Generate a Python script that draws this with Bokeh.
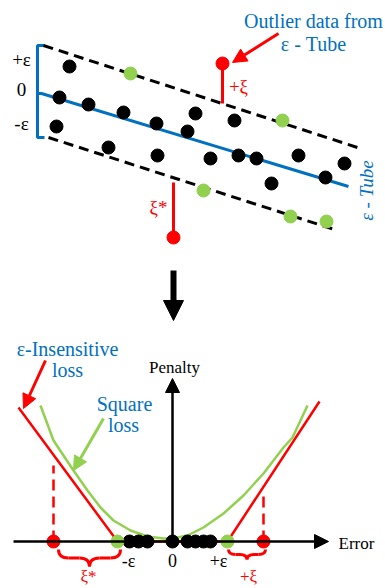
from bokeh.plotting import figure
from bokeh.layouts import column
from bokeh.models import Arrow, NormalHead, Range1d
from bokeh.core.properties import value
from bokeh.embed import file_html
from bokeh.resources import INLINE

# ---------------- DATA ----------------
# Top panel (diagram units, y grows downward)
black_x = [69, 59, 88, 123, 56, 156, 195, 187, 234, 108, 157, 210, 238, 256, 298, 344, 325, 271]
black_y = [66, 97, 104, 112, 126, 123, 113, 131, 120, 147, 155, 158, 155, 158, 155, 163, 177, 183]
green_x = [130, 282, 203, 290, 326]
green_y = [73, 120, 190, 216, 221]
outlier_x = [222, 173]
outlier_y = [63, 237]
outlier_stem_y = [103, 182]
center_x = [37, 41, 348]
center_y = [93, 93, 186]
upper_x = [43, 357]
upper_y = [45, 147]
lower_x = [48, 337]
lower_y = [137, 230]

# Bottom panel (error / penalty units)
eps = 5.5
inside_err = [-4.3, -3.4, -2.5, 0.0, 1.5, 2.3, 3.1, 3.8]
outlier_err = [-11.9, 9.1]
outlier_dash_top = [7.6, 4.9]
insens_err = [-15.4, -5.5, 5.5, 14.7]
insens_pen = [13.4, 0.0, 0.0, 14.0]
square_err = [-13.2, -11.9, -9.9, -8.5, -7.2, -5.9, -4.2, -2.5, -0.9, 0.0, 1.5, 3.1, 5.1, 7.1, 9.1, 11.1, 12.0, 13.5]
square_pen = [13.6, 10.1, 7.1, 5.1, 3.4, 2.1, 1.1, 0.5, 0.3, 0.3, 0.6, 1.4, 2.8, 4.6, 6.8, 9.4, 10.4, 13.6]

# ---------------- STYLE ----------------
BLUE = "#0070C0"
RED = "#FF0000"
GREEN = "#92D050"
BLACK = "#000000"
FONT = "Liberation Serif"
DOT = 13


def txt(p, x, y, s, color, size, angle=0.0, style="normal", align="center"):
    p.text(x=[x], y=[y], text=[s], text_color=color, text_font=value(FONT),
           text_font_size=f"{size}px", text_align=align, text_baseline="middle",
           angle=angle, text_font_style=style)


def arrow(p, x0, y0, x1, y1, color, lw, head):
    p.add_layout(Arrow(end=NormalHead(size=head, fill_color=color, line_color=color, line_width=1),
                       x_start=x0, y_start=y0, x_end=x1, y_end=y1,
                       line_color=color, line_width=lw))


def base_fig(w, h, xr, yr):
    p = figure(width=w, height=h, x_range=Range1d(*xr), y_range=Range1d(*yr),
               x_axis_type=None, y_axis_type=None, output_backend="svg",
               toolbar_location=None, min_border=0, outline_line_color=None,
               background_fill_color="white", border_fill_color="white")
    p.grid.visible = False
    return p


# ---------------- TOP PANEL ----------------
p1 = base_fig(385, 330, (0, 385), (330, 0))

# epsilon bracket
bx = center_x[0]
p1.line([bx + 7, bx, bx, bx + 7], [upper_y[0], upper_y[0], lower_y[0], lower_y[0]],
        line_color=BLUE, line_width=3)
p1.line(center_x, center_y, line_color=BLUE, line_width=3)
p1.line(upper_x, upper_y, line_color=BLACK, line_width=3, line_dash="10 6")
p1.line(lower_x, lower_y, line_color=BLACK, line_width=3, line_dash="10 6")

# outlier stems
for ox, oy, sy in zip(outlier_x, outlier_y, outlier_stem_y):
    p1.line([ox, ox], [oy, sy], line_color=RED, line_width=3)

p1.scatter(black_x, black_y, size=DOT, color=BLACK)
p1.scatter(green_x, green_y, size=DOT, color=GREEN)
p1.scatter(outlier_x, outlier_y, size=DOT, color=RED)

txt(p1, 21, 59, "+ε", BLACK, 19)
txt(p1, 21, 89, "0", BLACK, 19)
txt(p1, 21, 123, "-ε", BLACK, 19)
txt(p1, 238, 86, "+ξ", RED, 19)
txt(p1, 158, 207, "ξ*", RED, 19)
txt(p1, 313, 20, "Outlier data from", BLUE, 20)
txt(p1, 313, 43, "ε - Tube", BLUE, 20)
txt(p1, 366, 190, "ε - Tube", BLUE, 19, angle=1.5708, style="italic")

arrow(p1, 278, 33, 232, 62, RED, 3, 14)
arrow(p1, 173, 270, 173, 320, BLACK, 6, 20)

# ---------------- BOTTOM PANEL ----------------
p2 = base_fig(385, 258, (-17.2, 21.3), (-4.7, 21.1))

arrow(p2, -15.9, 0, 15.6, 0, BLACK, 2.5, 14)
arrow(p2, 0, 0, 0, 16.3, BLACK, 2.5, 14)

p2.line(insens_err, insens_pen, line_color=RED, line_width=2.5)
p2.line(square_err, square_pen, line_color=GREEN, line_width=2.5)

for ex, top in zip(outlier_err, outlier_dash_top):
    p2.line([ex, ex], [0, top], line_color=RED, line_width=2.5, line_dash="11 6")

p2.scatter(inside_err, [0] * len(inside_err), size=DOT, color=BLACK)
p2.scatter([-eps, eps], [0, 0], size=DOT, color=GREEN)
p2.scatter(outlier_err, [0, 0], size=DOT, color=RED)


def brace(p, a, b, yt, yb, r):
    ym = (yt + yb) / 2
    xm = (a + b) / 2
    p.quadratic(x0=[a, xm - r, xm, b - r], y0=[yt, ym, yb, ym],
                x1=[a + r, xm, xm + r, b], y1=[ym, yb, ym, yt],
                cx=[a, xm, xm, b], cy=[ym, ym, ym, ym],
                line_color=RED, line_width=3)
    p.multi_line(xs=[[a + r, xm - r], [xm + r, b - r]], ys=[[ym, ym], [ym, ym]],
                 line_color=RED, line_width=3)


brace(p2, outlier_err[0] + 0.5, -eps + 0.3, -0.8, -2.5, 1.0)
brace(p2, eps + 0.1, outlier_err[1] + 0.2, -0.8, -1.8, 0.7)

txt(p2, -4.4, -1.9, "-ε", BLACK, 18)
txt(p2, 0, -1.9, "0", BLACK, 18)
txt(p2, 4.6, -1.9, "+ε", BLACK, 18)
txt(p2, -8.4, -3.5, "ξ*", RED, 17)
txt(p2, 7.6, -3.5, "+ξ", RED, 17)
txt(p2, 0.2, 17.4, "Penalty", BLACK, 17)
txt(p2, 16.6, -0.2, "Error", BLACK, 17, align="left")
txt(p2, -10.5, 19.3, "ε-Insensitive", BLUE, 20)
txt(p2, -10.5, 17.2, "loss", BLUE, 20)
txt(p2, -4.8, 13.8, "Square", BLUE, 20)
txt(p2, -4.9, 11.7, "loss", BLUE, 20)

arrow(p2, -12.7, 18.1, -14.9, 13.3, RED, 3, 14)
arrow(p2, -6.9, 12.3, -9.9, 7.1, GREEN, 3, 14)

layout = column(p1, p2, spacing=0)
open("out.html", "w").write(file_html(layout, INLINE))
